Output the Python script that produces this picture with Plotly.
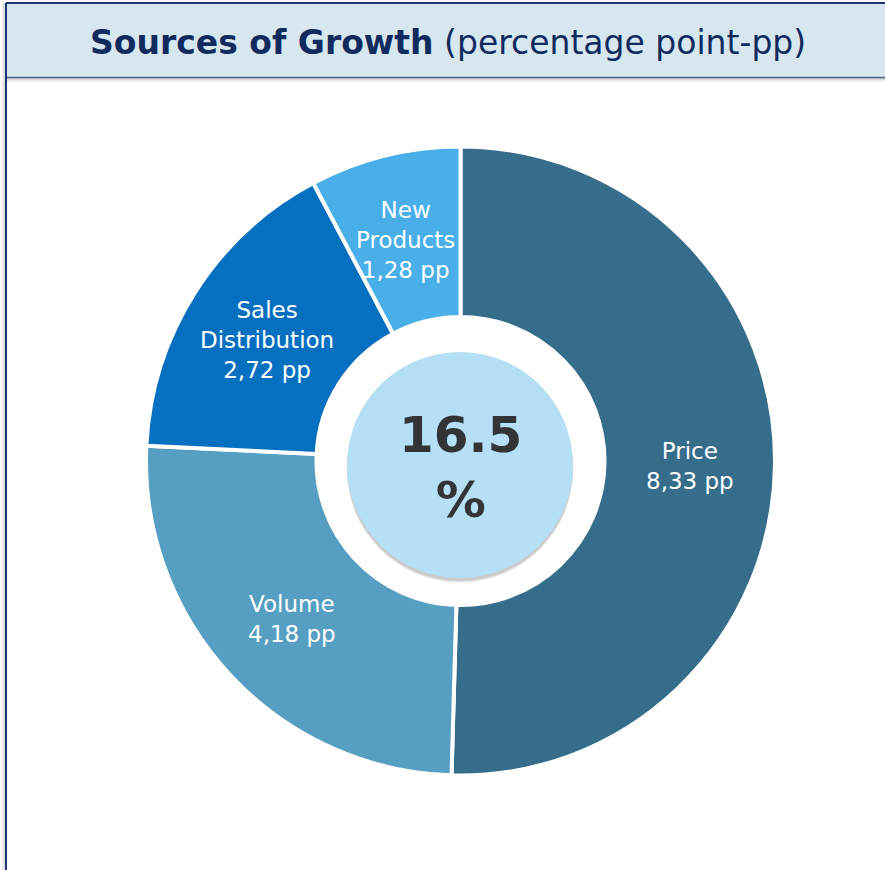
import math
import plotly.graph_objects as go

# Contributions to growth, in percentage points
categories = ["Price", "Volume", "Sales<br>Distribution", "New<br>Products"]
values = [8.33, 4.18, 2.72, 1.28]
colors = ["#356d8a", "#579fc2", "#0670c0", "#4aaee8"]

W, H = 885, 870
CX, CY = 460.5, 461.0          # donut centre, pixels from top-left
R = 314.5                       # outer radius incl. half the separator stroke
HOLE = 0.458

def px(x):
    return x / W

def py(y):
    return (H - y) / H

fig = go.Figure()

fig.add_trace(go.Pie(
    labels=[c.replace("<br>", " ") for c in categories],
    values=values,
    hole=HOLE,
    sort=False,
    direction="clockwise",
    rotation=0,
    marker=dict(colors=colors, line=dict(color="white", width=4)),
    textinfo="none",
    hoverinfo="label+value",
    showlegend=False,
    domain=dict(x=[px(CX - R), px(CX + R)], y=[py(CY + R), py(CY - R)]),
))

# slice labels at the middle of the ring, on each slice's mid angle
total = sum(values)
ring_mid = (HOLE * R + R) / 2
cum = 0.0
annotations = []
for cat, v in zip(categories, values):
    mid = (cum + v / 2) / total
    cum += v
    ang = 2 * math.pi * mid
    x = CX + ring_mid * math.sin(ang)
    y = CY - ring_mid * math.cos(ang) + 2
    txt = f"{cat}<br>{v:.2f}".replace(".", ",") + " pp"
    annotations.append(dict(
        x=px(x), y=py(y), xref="paper", yref="paper",
        text=txt, showarrow=False,
        font=dict(family="DejaVu Sans", size=23, color="white"),
        xanchor="center", yanchor="middle", align="center",
    ))

# total in the centre badge
annotations.append(dict(
    x=px(460), y=py(468), xref="paper", yref="paper",
    text=f"<b>{total:.1f}<br>%</b>", showarrow=False,
    font=dict(family="DejaVu Sans", size=50, color="#333438"),
    xanchor="center", yanchor="middle", align="center",
))

# header text
annotations.append(dict(
    x=px(448), y=py(43), xref="paper", yref="paper",
    text="<b>Sources of Growth</b> (percentage point-pp)", showarrow=False,
    font=dict(family="DejaVu Sans", size=33, color="#112b5e"),
    xanchor="center", yanchor="middle",
))

shapes = []

# header bar shadow
for i, a in enumerate([0.22, 0.15, 0.09, 0.05, 0.02]):
    shapes.append(dict(type="rect", xref="paper", yref="paper",
                       x0=px(6), x1=1.01, y0=py(78 + i + 1), y1=py(78 + i),
                       fillcolor=f"rgba(0,0,0,{a})", line=dict(width=0), layer="below"))
# header bar
shapes.append(dict(type="rect", xref="paper", yref="paper",
                   x0=px(6), x1=1.01, y0=py(77), y1=py(3),
                   fillcolor="#d6e7f0", line=dict(width=0), layer="below"))
shapes.append(dict(type="line", xref="paper", yref="paper",
                   x0=px(6), x1=1.01, y0=py(3), y1=py(3),
                   line=dict(color="#1c3677", width=2)))
shapes.append(dict(type="line", xref="paper", yref="paper",
                   x0=px(6), x1=1.01, y0=py(77.5), y1=py(77.5),
                   line=dict(color="#4d6592", width=1.5)))
# panel left border with a faint shadow
shapes.append(dict(type="line", xref="paper", yref="paper",
                   x0=px(4), x1=px(4), y0=py(3), y1=0,
                   line=dict(color="rgba(0,0,0,0.12)", width=3)))
shapes.append(dict(type="line", xref="paper", yref="paper",
                   x0=px(6), x1=px(6), y0=py(3), y1=0,
                   line=dict(color="#1c3677", width=2)))

# centre badge shadow and disc
BX, BY, BR = 460.0, 465.0, 113.0
for off, a in [(5, 0.05), (4, 0.07), (3, 0.09)]:
    shapes.append(dict(type="circle", xref="paper", yref="paper",
                       x0=px(BX - BR), x1=px(BX + BR),
                       y0=py(BY + BR + off), y1=py(BY - BR + off),
                       fillcolor=f"rgba(0,0,0,{a})", line=dict(width=0)))
shapes.append(dict(type="circle", xref="paper", yref="paper",
                   x0=px(BX - BR), x1=px(BX + BR),
                   y0=py(BY + BR), y1=py(BY - BR),
                   fillcolor="#b5dff5", line=dict(width=0)))

fig.update_layout(
    width=W, height=H,
    margin=dict(l=0, r=0, t=0, b=0),
    paper_bgcolor="white",
    plot_bgcolor="white",
    shapes=shapes,
    annotations=annotations,
)

fig.write_html("out.html", config={"displayModeBar": False})
